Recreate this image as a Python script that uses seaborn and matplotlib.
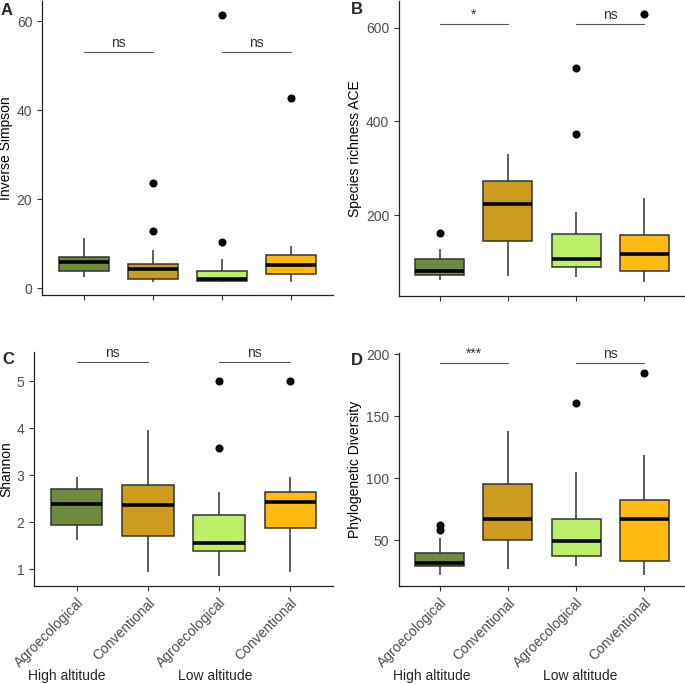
import numpy as np
import pandas as pd
import matplotlib
matplotlib.use('Agg')
import matplotlib.pyplot as plt
import seaborn as sns

# groups in plotting order
altitudes = ["High altitude", "High altitude", "Low altitude", "Low altitude"]
systems = ["Agroecological", "Conventional", "Agroecological", "Conventional"]
group_colors = ["#6E8B3D", "#CD9B1D", "#BCEE68", "#FFB90F"]

# values per group (same order as above)
inverse_simpson = [
    [2.6, 3.2, 3.6, 3.9, 4.6, 5.3, 5.8, 6.2, 6.7, 7.1, 7.9, 9.0, 11.2],
    [1.4, 1.8, 2.0, 2.2, 3.0, 3.8, 4.4, 4.8, 5.2, 5.5, 8.7, 12.8, 23.6],
    [1.4, 1.5, 1.6, 1.65, 1.9, 2.0, 2.2, 2.8, 3.4, 3.9, 6.6, 10.4, 61.4],
    [1.4, 2.1, 2.8, 3.3, 4.0, 4.6, 5.15, 5.9, 6.8, 7.4, 8.3, 9.5, 42.8],
]
richness_ace = [
    [61, 66, 70, 73, 76, 79, 82, 90, 98, 106, 115, 129, 163],
    [71, 104, 128, 145, 175, 205, 224, 240, 258, 274, 295, 312, 331],
    [69, 78, 84, 89, 95, 101, 106, 120, 140, 161, 208, 373, 515],
    [58, 68, 76, 82, 95, 108, 117, 128, 143, 157, 190, 236, 629],
]
shannon = [
    [1.62, 1.75, 1.85, 1.94, 2.10, 2.25, 2.39, 2.50, 2.60, 2.71, 2.80, 2.88, 2.96],
    [0.93, 1.25, 1.50, 1.70, 1.95, 2.20, 2.37, 2.50, 2.65, 2.78, 3.10, 3.50, 3.97],
    [0.86, 1.10, 1.25, 1.38, 1.45, 1.50, 1.55, 1.75, 1.95, 2.15, 2.65, 3.57, 5.0],
    [0.93, 1.40, 1.70, 1.87, 2.05, 2.25, 2.42, 2.50, 2.58, 2.65, 2.80, 2.96, 5.0],
]
phylo_diversity = [
    [22.2, 25.5, 27.8, 29.4, 30.2, 30.9, 31.5, 34.0, 37.0, 40.0, 52.0, 58.5, 62.5],
    [27, 36, 44, 50, 56, 62, 67, 75, 85, 95, 110, 125, 138],
    [29, 32, 35, 37, 41, 45, 49, 55, 61, 67.4, 85, 105, 161],
    [22, 26, 30, 33, 45, 57, 67.4, 72, 78, 82.6, 100, 119, 185],
]

# panel settings
panel_letters = ["A", "B", "C", "D"]
panel_ylabels = ["Inverse Simpson", "Species richness ACE", "Shannon", "Phylogenetic Diversity"]
panel_yticks = [[0, 20, 40, 60], [200, 400, 600], [1, 2, 3, 4, 5], [50, 100, 150, 200]]
panel_ylims = [(-1.5, 64.5), (28, 657), (0.64, 5.62), (13, 201)]
sig_labels = [["ns", "ns"], ["*", "ns"], ["ns", "ns"], ["***", "ns"]]
sig_heights = [53.1, 608, 5.4, 193]

W, H = 685, 684
sns.set_theme(style="ticks")
plt.rcParams['font.family'] = ['Liberation Sans', 'DejaVu Sans']

fig = plt.figure(figsize=(W / 100, H / 100), dpi=100)
positions = [
    [0.0613, 0.5687, 0.4248, 0.4298],
    [0.5825, 0.5673, 0.4175, 0.4313],
    [0.0496, 0.1433, 0.4365, 0.3421],
    [0.5825, 0.1433, 0.4175, 0.3406],
]
ylabel_x = [-0.10, -0.129, -0.070, -0.129]
letter_xy = [(1, 3), (351, 2), (2, 352), (351, 353)]
group_keys = [f"{a} {s}" for a, s in zip(altitudes, systems)]
datasets = [inverse_simpson, richness_ace, shannon, phylo_diversity]

for i, (values, pos) in enumerate(zip(datasets, positions)):
    ax = fig.add_axes(pos)
    df = pd.DataFrame({
        "group": np.repeat(group_keys, [len(v) for v in values]),
        "value": np.concatenate(values),
    })
    sns.boxplot(
        data=df, x="group", y="value", hue="group", order=group_keys,
        hue_order=group_keys, palette=group_colors, legend=False,
        width=0.72, linewidth=1.1, linecolor="#333333", showcaps=False,
        saturation=1, ax=ax,
        medianprops=dict(color="black", linewidth=2.6),
        flierprops=dict(marker="o", markerfacecolor="black",
                        markeredgecolor="black", markersize=4.8),
    )
    ax.set_xlim(-0.6, 3.6)
    ax.set_ylim(*panel_ylims[i])
    ax.set_yticks(panel_yticks[i])
    ax.set_ylabel(panel_ylabels[i], fontsize=10, color="black")
    ax.yaxis.set_label_coords(ylabel_x[i], 0.5)
    ax.set_xlabel("")
    sns.despine(ax=ax)
    for sp in ["left", "bottom"]:
        ax.spines[sp].set_linewidth(0.9)
        ax.spines[sp].set_color("#222222")
    ax.tick_params(axis="both", length=3.5, width=0.8, color="#333333",
                   labelsize=10, labelcolor="#4D4D4D")
    ax.set_xticks(range(4))
    if i < 2:
        ax.set_xticklabels([])
    else:
        ax.set_xticklabels(systems, rotation=45, ha="right",
                           rotation_mode="anchor", va="top")

    # significance brackets
    h = sig_heights[i]
    for j, (x0, x1) in enumerate([(0, 1), (2, 3)]):
        ax.plot([x0, x1], [h, h], color="#555555", linewidth=0.8, clip_on=False)
        ax.annotate(sig_labels[i][j], xy=((x0 + x1) / 2, h), xytext=(0, 1.5),
                    textcoords="offset points", ha="center", va="bottom",
                    fontsize=10, color="#333333")

    lx, ly = letter_xy[i]
    fig.text(lx / W, 1 - ly / H, panel_letters[i], fontsize=12,
             fontweight="bold", ha="left", va="top")

# altitude labels under the bottom row
for x_px, lab in [(28, "High altitude"), (178, "Low altitude"),
                  (393, "High altitude"), (543, "Low altitude")]:
    fig.text(x_px / W, 1 / H, lab, fontsize=10, ha="left", va="bottom")

fig.savefig("out.png", dpi=100)
